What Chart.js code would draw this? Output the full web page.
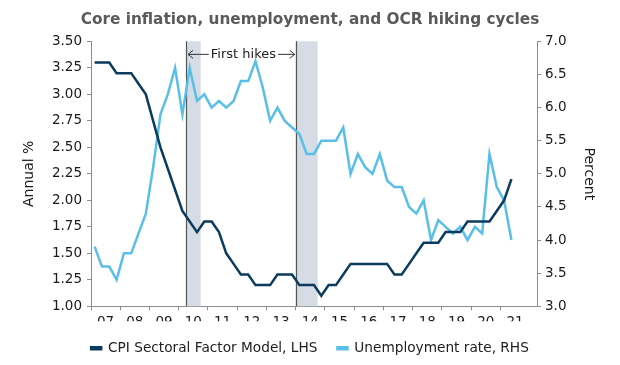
<!doctype html>
<html lang="en">
<head>
  <meta charset="UTF-8">
  <title>Core inflation, unemployment, and OCR hiking cycles</title>
  <script src="https://cdn.jsdelivr.net/npm/chart.js@4.4.1/dist/chart.umd.min.js"></script>
  <style>
    body { margin: 0; background: #fff; }
  </style>
</head>
<body>
  <canvas id="canvas" width="620" height="365"></canvas>
  <script>
    // quarterly data from 2007 Q1
    var startYear = 2007;
    var yearLabels = ['07','08','09','10','11','12','13','14','15','16','17','18','19','20','21'];
    var cpiSectoral = [3.3,3.3,3.3,3.2,3.2,3.2,3.1,3.0,2.75,2.5,
      2.3,2.1,1.9,1.8,1.7,1.8,1.8,1.7,1.5,1.4,
      1.3,1.3,1.2,1.2,1.2,1.3,1.3,1.3,1.2,1.2,
      1.2,1.1,1.2,1.2,1.3,1.4,1.4,1.4,1.4,1.4,
      1.4,1.3,1.3,1.4,1.5,1.6,1.6,1.6,1.7,1.7,
      1.7,1.8,1.8,1.8,1.8,1.9,2.0,2.2];
    var unemployment = [3.9,3.6,3.6,3.4,3.8,3.8,4.1,4.4,5.1,5.9,
      6.2,6.6,5.9,6.6,6.1,6.2,6.0,6.1,6.0,6.1,
      6.4,6.4,6.7,6.3,5.8,6.0,5.8,5.7,5.6,5.3,
      5.3,5.5,5.5,5.5,5.7,5.0,5.3,5.1,5.0,5.3,
      4.9,4.8,4.8,4.5,4.4,4.6,4.0,4.3,4.2,4.1,
      4.2,4.0,4.2,4.1,5.3,4.8,4.6,4.0];
    // OCR hiking cycles (fractional years)
    var hikeStarts = [2010.25, 2014.0];
    var hikeEnds = [2010.75, 2014.75];

    const toPoints = arr => arr.map((v, i) => ({ x: startYear + (i + 0.5) / 4, y: v }));

    const font = 'DejaVu Sans';
    const axisGrey = '#8c8c8c';

    const hikesPlugin = {
      id: 'hikes',
      beforeDatasetsDraw(chart) {
        const { ctx, chartArea: a, scales: { x } } = chart;
        ctx.save();
        ctx.fillStyle = '#d5dce5';
        hikeStarts.forEach((s, i) => {
          const x0 = x.getPixelForValue(s), x1 = x.getPixelForValue(hikeEnds[i]);
          ctx.fillRect(x0, a.top, x1 - x0, a.bottom - a.top);
        });
        ctx.strokeStyle = '#555';
        ctx.lineWidth = 1.2;
        hikeStarts.forEach(s => {
          const px = Math.round(x.getPixelForValue(s)) + 0.5;
          ctx.beginPath();
          ctx.moveTo(px, a.top);
          ctx.lineTo(px, a.bottom);
          ctx.stroke();
        });
        // "First hikes" label with arrows to both lines
        const l = x.getPixelForValue(hikeStarts[0]) + 2;
        const r = x.getPixelForValue(hikeStarts[1]) - 1;
        const y = a.top + 13;
        ctx.font = '13px ' + font;
        ctx.fillStyle = '#222';
        ctx.textBaseline = 'middle';
        ctx.textAlign = 'center';
        const text = 'First hikes';
        const w = ctx.measureText(text).width;
        const cx = (l + r) / 2 + 2;
        ctx.fillText(text, cx, y);
        ctx.strokeStyle = '#333';
        ctx.lineWidth = 1;
        ctx.beginPath();
        ctx.moveTo(cx - w / 2 - 2, y); ctx.lineTo(l, y);
        ctx.moveTo(l + 5, y - 4); ctx.lineTo(l, y); ctx.lineTo(l + 5, y + 4);
        ctx.moveTo(cx + w / 2 + 2, y); ctx.lineTo(r, y);
        ctx.moveTo(r - 5, y - 4); ctx.lineTo(r, y); ctx.lineTo(r - 5, y + 4);
        ctx.stroke();
        ctx.restore();
      }
    };

    new Chart(document.getElementById('canvas'), {
      type: 'line',
      data: {
        datasets: [
          {
            label: 'CPI Sectoral Factor Model, LHS',
            data: toPoints(cpiSectoral),
            borderColor: '#0b3b5e',
            backgroundColor: '#0b3b5e',
            borderWidth: 2.5,
            yAxisID: 'y'
          },
          {
            label: 'Unemployment rate, RHS',
            data: toPoints(unemployment),
            borderColor: '#58bfe8',
            backgroundColor: '#58bfe8',
            borderWidth: 2.5,
            yAxisID: 'y2'
          }
        ]
      },
      plugins: [hikesPlugin],
      options: {
        responsive: false,
        devicePixelRatio: 1,
        animation: false,
        layout: { padding: 0 },
        elements: { point: { radius: 0 }, line: { tension: 0 } },
        plugins: {
          tooltip: { enabled: false },
          title: {
            display: true,
            text: 'Core inflation, unemployment, and OCR hiking cycles',
            color: '#5a5a5a',
            font: { family: font, size: 15.3, weight: 'bold' },
            padding: { top: 11, bottom: 12 }
          },
          legend: {
            position: 'bottom',
            labels: {
              color: '#222',
              font: { family: font, size: 13.7 },
              boxWidth: 10,
              boxHeight: 2,
              padding: 20
            }
          }
        },
        scales: {
          x: {
            type: 'linear',
            min: startYear,
            max: 2022.25,
            afterFit: s => { s.height = 15; },
            grid: {
              drawOnChartArea: false,
              tickLength: 4,
              tickColor: c => (c.tick && Number.isInteger(c.tick.value)) ? axisGrey : 'rgba(0,0,0,0)'
            },
            border: { color: axisGrey },
            ticks: {
              stepSize: 0.5,
              autoSkip: false,
              maxRotation: 0,
              padding: 4,
              color: '#1a1a1a',
              font: { family: font, size: 13.5 },
              callback: v => {
                if (Number.isInteger(v)) return '';
                const k = Math.floor(v) - startYear;
                return yearLabels[k] || '';
              }
            }
          },
          y: {
            position: 'left',
            min: 1,
            max: 3.5,
            afterFit: s => { s.width = 91; },
            grid: { drawOnChartArea: false, tickLength: 4, tickColor: axisGrey },
            border: { color: axisGrey },
            ticks: {
              stepSize: 0.25,
              padding: 5,
              color: '#1a1a1a',
              font: { family: font, size: 13.5 },
              callback: v => v.toFixed(2)
            },
            title: {
              display: true,
              text: 'Annual %',
              color: '#1a1a1a',
              font: { family: font, size: 14 },
              padding: { top: 21, bottom: 0 }
            }
          },
          y2: {
            position: 'right',
            min: 3,
            max: 7,
            afterFit: s => { s.width = 83; },
            grid: { drawOnChartArea: false, tickLength: 4, tickColor: axisGrey },
            border: { color: axisGrey },
            ticks: {
              stepSize: 0.5,
              padding: 4,
              color: '#1a1a1a',
              font: { family: font, size: 13.5 },
              callback: v => v.toFixed(1)
            },
            title: {
              display: true,
              text: 'Percent',
              color: '#1a1a1a',
              font: { family: font, size: 14 },
              padding: { top: 23, bottom: 0 }
            }
          }
        }
      }
    });
  </script>
</body>
</html>
